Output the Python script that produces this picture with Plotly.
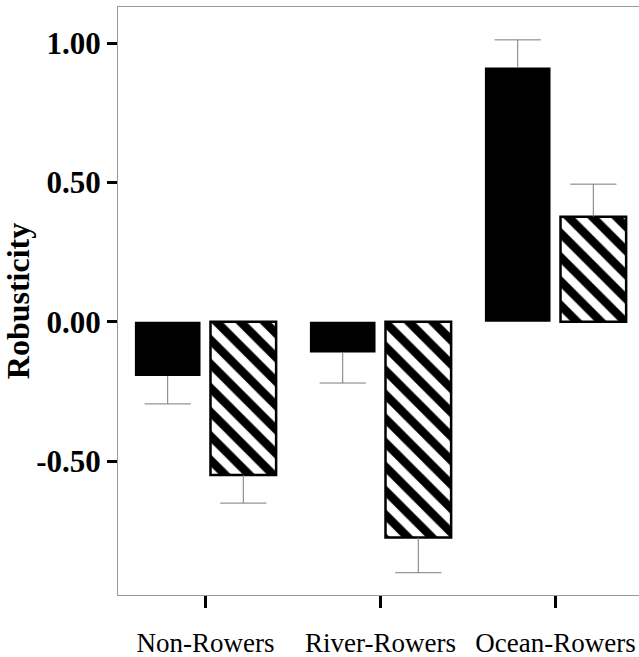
import plotly.graph_objects as go

# ---- data ----
categories = ["Non-Rowers", "River-Rowers", "Ocean-Rowers"]
solid_values = [-0.195, -0.110, 0.913]
solid_errors = [0.100, 0.110, 0.099]
hatched_values = [-0.550, -0.775, 0.377]
hatched_errors = [0.101, 0.126, 0.117]
y_tick_vals = [-0.5, 0.0, 0.5, 1.0]
y_tick_text = ["-0.50", "0.00", "0.50", "1.00"]

# ---- style constants ----
OFFSET = 0.216
BAR_W = 0.375
ERR_COLOR = "#7a7a7a"
CAP_SIZE = 33
SERIF = "Liberation Serif, Times New Roman, serif"

idx = list(range(len(categories)))


def err_parts(vals, errs):
    plus = [e if v >= 0 else 0 for v, e in zip(vals, errs)]
    minus = [e if v < 0 else 0 for v, e in zip(vals, errs)]
    ends = [v + e if v >= 0 else v - e for v, e in zip(vals, errs)]
    return plus, minus, ends


fig = go.Figure()

for vals, errs, off, hatched in [
    (solid_values, solid_errors, -OFFSET, False),
    (hatched_values, hatched_errors, OFFSET, True),
]:
    plus, minus, ends = err_parts(vals, errs)
    xs = [i + off for i in idx]
    marker = dict(color="black", line=dict(width=0))
    if hatched:
        marker = dict(
            color="white",
            pattern=dict(shape="\\", size=17, solidity=0.5, fgcolor="black",
                         bgcolor="white", fgopacity=1, fillmode="replace"),
            line=dict(color="black", width=2.5),
        )
    fig.add_trace(go.Bar(
        x=xs, y=vals, width=BAR_W, marker=marker, showlegend=False,
        error_y=dict(type="data", symmetric=False, array=plus, arrayminus=minus,
                     color=ERR_COLOR, thickness=1, width=0),
    ))
    fig.add_trace(go.Scatter(
        x=xs, y=ends, mode="markers", showlegend=False, hoverinfo="skip",
        marker=dict(symbol="line-ew", size=CAP_SIZE, color=ERR_COLOR,
                    line=dict(color=ERR_COLOR, width=1)),
    ))

fig.update_layout(
    width=639, height=657,
    margin=dict(l=118, r=0, t=7, b=62),
    plot_bgcolor="white", paper_bgcolor="white",
    barmode="overlay",
    xaxis=dict(
        range=[-0.5, 2.477], tickvals=idx, ticktext=categories,
        showline=True, linecolor="#9a9a9a", linewidth=1, mirror=True,
        ticks="outside", ticklen=12, tickwidth=3, tickcolor="black",
        showgrid=False, zeroline=False,
        tickfont=dict(family=SERIF, size=27, color="black"),
        ticklabelstandoff=12,
    ),
    yaxis=dict(
        range=[-0.981, 1.13], tickvals=y_tick_vals, ticktext=y_tick_text,
        showline=True, linecolor="#9a9a9a", linewidth=1,
        ticks="outside", ticklen=10, tickwidth=3, tickcolor="black",
        showgrid=False, zeroline=False,
        tickfont=dict(family=SERIF, size=31, color="black", weight="bold"),
        ticklabelstandoff=0,
        title=dict(text="Robusticity", standoff=8,
                   font=dict(family=SERIF, size=32, color="black", weight="bold")),
    ),
)

fig.write_html("out.html")
